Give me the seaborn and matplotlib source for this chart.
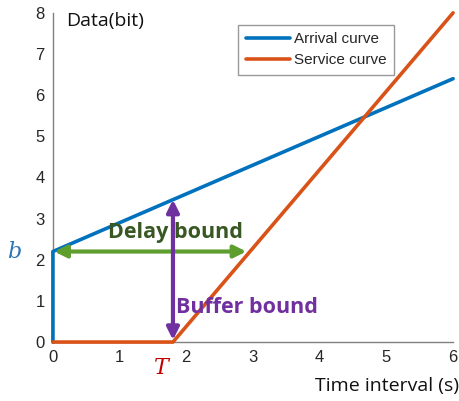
import matplotlib
matplotlib.use("Agg")
import matplotlib.pyplot as plt
import seaborn as sns
import pandas as pd

# Data
arrival_x = [0, 0, 6]
arrival_y = [0, 2.2, 6.4]
service_x = [0, 1.8, 6]
service_y = [0, 0, 8]
burst_b = 2.2
latency_T = 1.8
delay_end = 2.9
buffer_top = 3.46
x_ticks = [0, 1, 2, 3, 4, 5, 6]
y_ticks = [0, 1, 2, 3, 4, 5, 6, 7, 8]

sns.set_style("white")
plt.rcParams['font.family'] = ['Liberation Sans', 'DejaVu Sans']

fig = plt.figure(figsize=(4.6, 4.01), dpi=100)
ax = fig.add_axes([0.115, 0.147, 0.87, 0.821])

df = pd.concat([
    pd.DataFrame({"x": arrival_x, "y": arrival_y, "curve": "Arrival curve", "o": range(3)}),
    pd.DataFrame({"x": service_x, "y": service_y, "curve": "Service curve", "o": range(3)}),
])
sns.lineplot(data=df, x="x", y="y", hue="curve", sort=False, estimator=None,
             palette={"Arrival curve": "#0072BD", "Service curve": "#D95319"},
             linewidth=2.6, ax=ax, clip_on=False, zorder=3)

ax.set_xlim(0, 6)
ax.set_ylim(0, 8)
ax.set_xticks(x_ticks)
ax.set_yticks(y_ticks)
ax.tick_params(direction='in', length=4, color='#808080', labelsize=12, labelcolor='#262626', pad=6)
for s in ['top', 'right']:
    ax.spines[s].set_visible(False)
for s in ['left', 'bottom']:
    ax.spines[s].set_color('#808080')
    ax.spines[s].set_linewidth(1.0)
ax.set_xlabel("")
ax.set_ylabel("")

leg = ax.legend(loc='upper left', bbox_to_anchor=(0.4625, 0.9635), frameon=True, fancybox=False,
                edgecolor='#808080', handlelength=2.9, handletextpad=0.25,
                borderpad=0.5, labelspacing=0.45, borderaxespad=0,
                prop={'family': ['Liberation Sans', 'DejaVu Sans'], 'size': 11})
leg.get_frame().set_linewidth(1.0)
for t in leg.get_texts():
    t.set_color('#262626')

# Arrows
ax.annotate('', xy=(0.02, burst_b), xytext=(delay_end, burst_b),
            arrowprops=dict(arrowstyle='<|-|>', color='#5E9E2E', lw=3, mutation_scale=18,
                            shrinkA=0, shrinkB=0), zorder=4)
ax.annotate('', xy=(latency_T, 0.05), xytext=(latency_T, buffer_top),
            arrowprops=dict(arrowstyle='<|-|>', color='#7030A0', lw=3, mutation_scale=18,
                            shrinkA=0, shrinkB=0), zorder=4)

ax.text(0.82, 2.65, "Delay bound", color='#385723', fontsize=15.5, fontweight='bold',
        family=['Open Sans', 'DejaVu Sans'], va='center', ha='left', zorder=5)
ax.text(1.84, 0.85, "Buffer bound", color='#7030A0', fontsize=15.5, fontweight='bold',
        family=['Open Sans', 'DejaVu Sans'], va='center', ha='left', zorder=5)
ax.text(0.2, 7.8, "Data(bit)", color='#111111', fontsize=14,
        family=['Open Sans', 'DejaVu Sans'], va='center', ha='left')

fig.text(14 / 460, 1 - 252 / 401, "b", color='#2E75B6', fontsize=16, style='italic',
         family=['DejaVu Serif'], ha='center', va='center')
fig.text(161 / 460, 1 - 368 / 401, "T", color='#C00000', fontsize=16, style='italic',
         family=['DejaVu Serif'], ha='center', va='center')
fig.text(315 / 460, 1 - 386 / 401, "Time interval (s)", color='#111111', fontsize=14,
         family=['Open Sans', 'DejaVu Sans'], ha='left', va='center')

fig.savefig("out.png", dpi=100)
